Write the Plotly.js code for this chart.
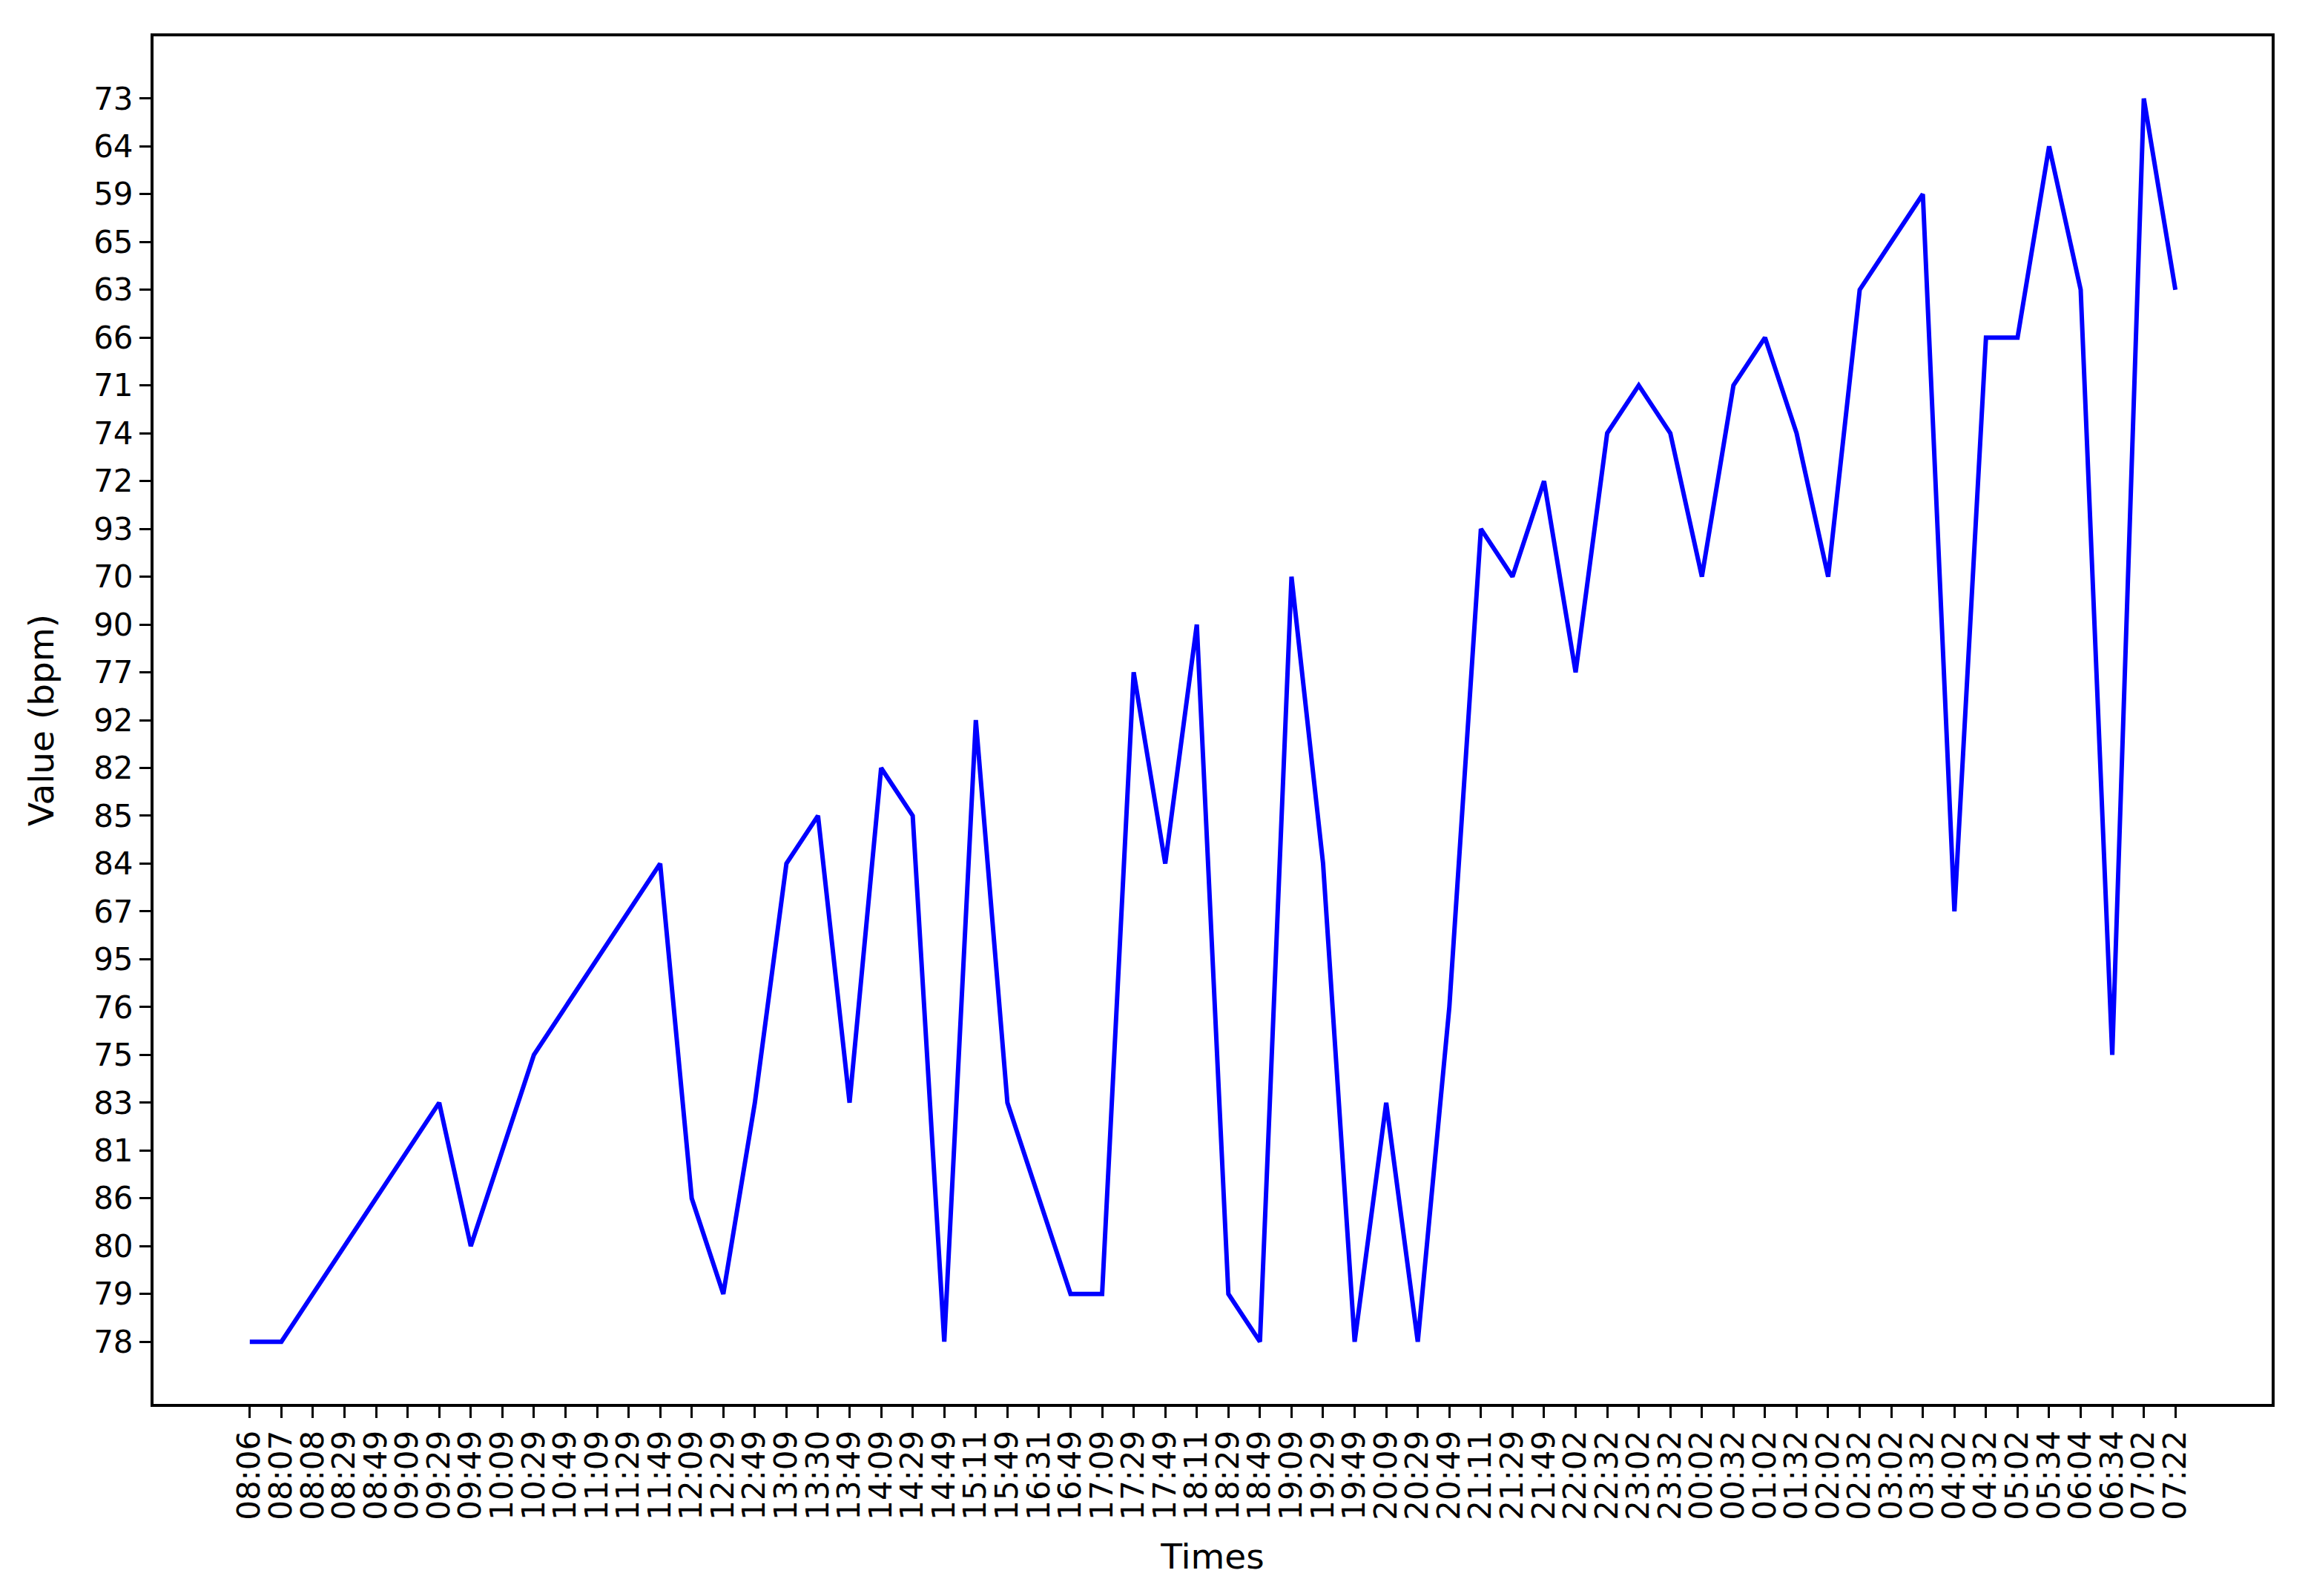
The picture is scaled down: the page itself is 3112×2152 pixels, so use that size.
<!DOCTYPE html>
<html>
<head>
<meta charset="utf-8">
<script src="https://cdn.plot.ly/plotly-3.0.1.min.js"></script>
<style>
  html, body { margin: 0; padding: 0; background: #ffffff; }
  #chart { width: 3112px; height: 2152px; }
</style>
</head>
<body>
<div id="chart"></div>
<script>
// Time labels (x categories, in order)
var times = [
  "08:06","08:07","08:08","08:29","08:49","09:09","09:29","09:49","10:09","10:29",
  "10:49","11:09","11:29","11:49","12:09","12:29","12:49","13:09","13:30","13:49",
  "14:09","14:29","14:49","15:11","15:49","16:31","16:49","17:09","17:29","17:49",
  "18:11","18:29","18:49","19:09","19:29","19:49","20:09","20:29","20:49","21:11",
  "21:29","21:49","22:02","22:32","23:02","23:32","00:02","00:32","01:02","01:32",
  "02:02","02:32","03:02","03:32","04:02","04:32","05:02","05:34","06:04","06:34",
  "07:02","07:22"
];

// Heart-rate values (bpm) at each time
var bpm = [
  78, 78, 79, 80, 86, 81, 83, 80, 81, 75,
  76, 95, 67, 84, 86, 79, 83, 84, 85, 83,
  82, 85, 78, 92, 83, 86, 79, 79, 77, 84,
  90, 79, 78, 70, 84, 78, 83, 78, 76, 93,
  70, 72, 77, 74, 71, 74, 70, 71, 66, 74,
  70, 63, 65, 59, 67, 66, 66, 64, 63, 75,
  73, 63
];

// Y axis categories (bottom to top, order of first appearance)
var yCategories = [
  "78","79","80","86","81","83","75","76","95","67","84","85","82","92",
  "77","90","70","93","72","74","71","66","63","65","59","64","73"
];

var bpmLabels = bpm.map(function (v) { return String(v); });

var trace = {
  type: "scatter",
  mode: "lines",
  x: times,
  y: bpmLabels,
  line: { color: "#0000ff", width: 6 },
  hoverinfo: "x+y"
};

var nX = times.length;
var nY = yCategories.length;
var xPad = 0.05 * (nX - 1);
var yPad = 0.05 * (nY - 1);

var tickFont = { family: "DejaVu Sans, sans-serif", size: 42, color: "#000000" };
var titleFont = { family: "DejaVu Sans, sans-serif", size: 47, color: "#000000" };

var layout = {
  width: 3112,
  height: 2152,
  paper_bgcolor: "#ffffff",
  plot_bgcolor: "#ffffff",
  showlegend: false,
  margin: { l: 207, r: 49, t: 49, b: 259, pad: 0 },
  xaxis: {
    type: "category",
    categoryorder: "array",
    categoryarray: times,
    range: [-xPad, (nX - 1) + xPad],
    tickmode: "array",
    tickvals: times,
    ticktext: times,
    tickangle: -90,
    ticks: "outside",
    ticklen: 15,
    tickwidth: 3,
    tickcolor: "#000000",
    tickfont: tickFont,
    showline: true,
    linecolor: "#000000",
    linewidth: 4,
    mirror: true,
    showgrid: false,
    zeroline: false,
    automargin: false,
    title: { text: "Times", font: titleFont, standoff: 34 }
  },
  yaxis: {
    type: "category",
    categoryorder: "array",
    categoryarray: yCategories,
    range: [-yPad, (nY - 1) + yPad],
    tickmode: "array",
    tickvals: yCategories,
    ticktext: yCategories,
    ticks: "outside",
    ticklen: 15,
    tickwidth: 3,
    tickcolor: "#000000",
    tickfont: tickFont,
    showline: true,
    linecolor: "#000000",
    linewidth: 4,
    mirror: true,
    showgrid: false,
    zeroline: false,
    automargin: false,
    title: { text: "Value (bpm)", font: titleFont, standoff: 40 }
  }
};

Plotly.newPlot("chart", [trace], layout, { staticPlot: true, displayModeBar: false });
</script>
</body>
</html>
